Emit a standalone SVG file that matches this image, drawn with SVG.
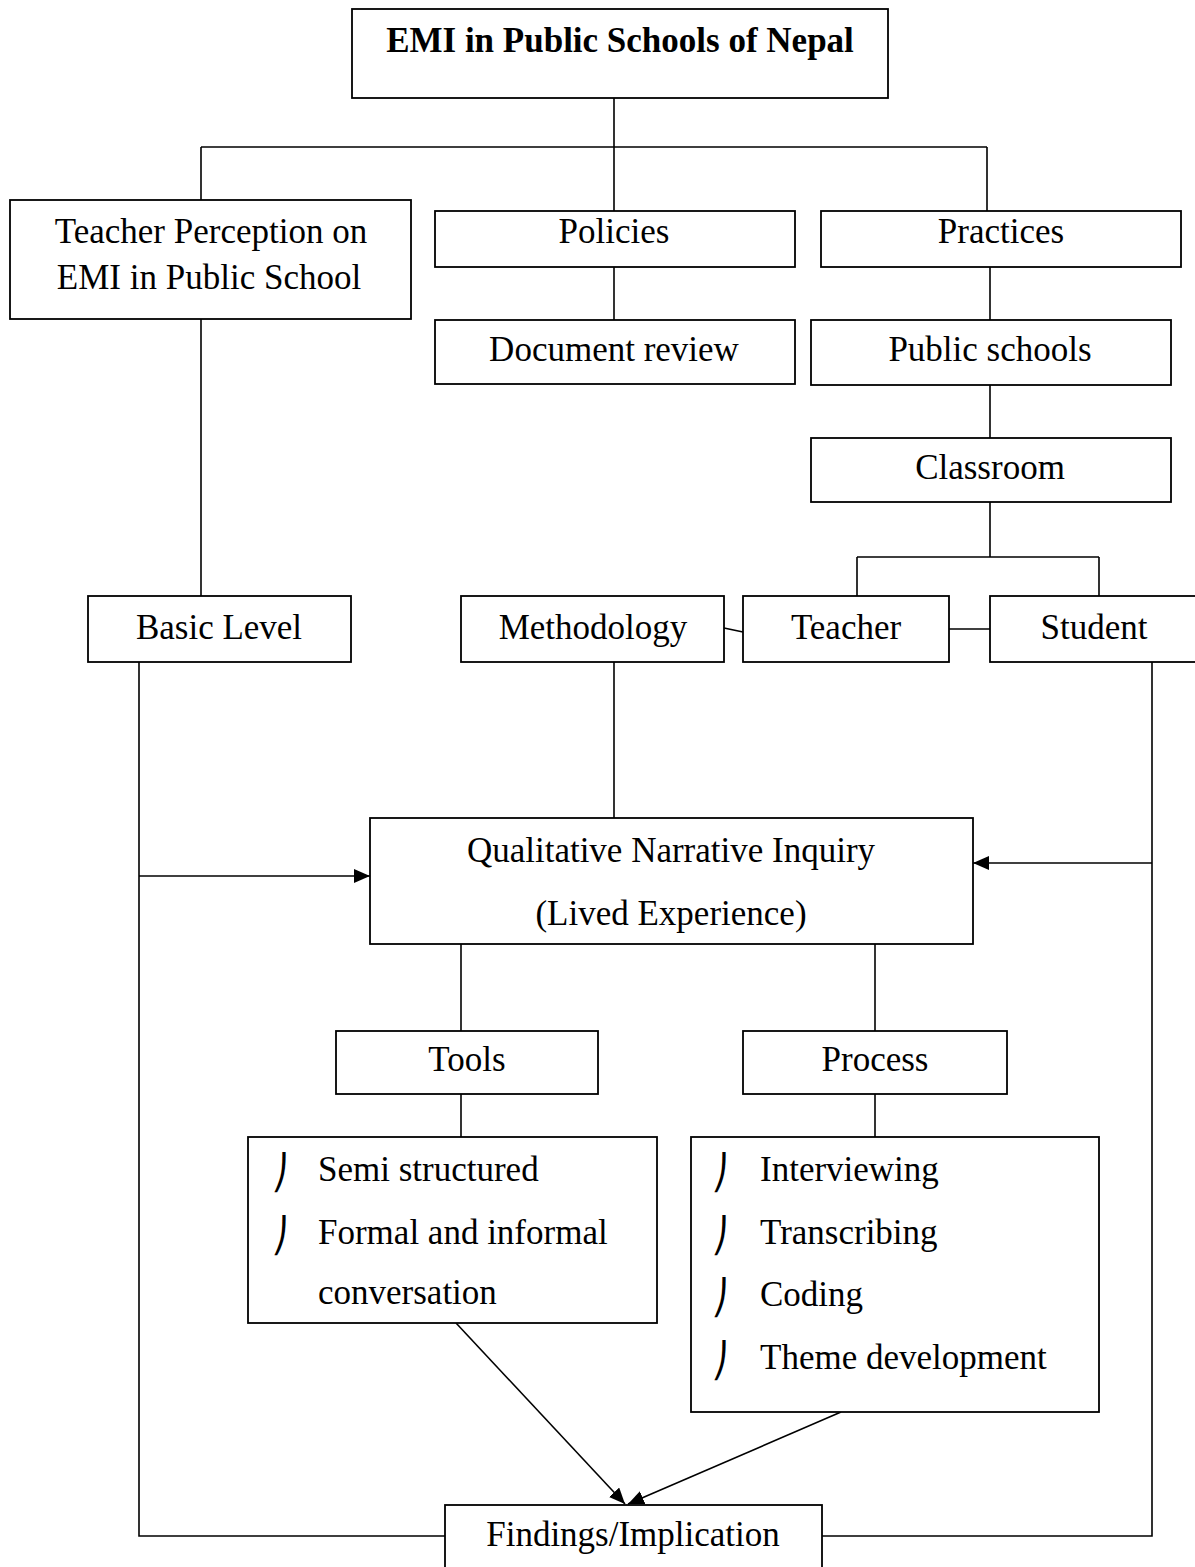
<svg xmlns="http://www.w3.org/2000/svg" width="1195" height="1567" viewBox="0 0 1195 1567">
<style>
.box{fill:#fff;stroke:#000;stroke-width:1.8}
.t{font-family:"Liberation Serif","Times New Roman",serif;font-size:35px;fill:#000}
.c{text-anchor:middle}
.b{font-weight:bold}
.bul{font-family:"DejaVu Sans",sans-serif;font-size:34px;fill:#000;text-anchor:middle}
.ln{fill:none;stroke:#000;stroke-width:1.6}
</style>
<defs>
<marker id="ah2" viewBox="0 0 10 10" refX="10" refY="5" markerWidth="16" markerHeight="14" markerUnits="userSpaceOnUse" orient="auto" preserveAspectRatio="none">
<path d="M0,0 L10,5 L0,10 z" fill="#000"/>
</marker>
</defs>
<g id="connectors">
<path class="ln" d="M614,98 V147 M201,147 H987 M201,147 V200 M614,147 V211 M987,147 V211"/>
<path class="ln" d="M614,267 V320"/>
<path class="ln" d="M990,267 V320"/>
<path class="ln" d="M990,385 V438"/>
<path class="ln" d="M990,502 V557 M857,557 H1099 M857,557 V596 M1099,557 V596"/>
<path class="ln" d="M949,629 H990"/>
<path class="ln" d="M724,628 L743,632"/>
<path class="ln" d="M201,319 V596"/>
<path class="ln" d="M614,662 V818"/>
<path class="ln" d="M139,662 V1536 H445"/>
<path class="ln" d="M1152,662 V1536 H822"/>
<path class="ln" d="M139,876 H370" marker-end="url(#ah2)"/>
<path class="ln" d="M1152,863 H973" marker-end="url(#ah2)"/>
<path class="ln" d="M461,944 V1031"/>
<path class="ln" d="M875,944 V1031"/>
<path class="ln" d="M461,1094 V1137"/>
<path class="ln" d="M875,1094 V1137"/>
<path class="ln" d="M456,1323 L625,1504" marker-end="url(#ah2)"/>
<path class="ln" d="M841,1412 L628,1504" marker-end="url(#ah2)"/>
</g>
<g id="n-title"><rect class="box" x="352" y="9" width="536" height="89"/><text class="t c b" x="620" y="52">EMI in Public Schools of Nepal</text></g>
<g id="n-perception"><rect class="box" x="10" y="200" width="401" height="119"/><text class="t c" x="211" y="243">Teacher Perception on</text><text class="t c" x="209" y="289">EMI in Public School</text></g>
<g id="n-policies"><rect class="box" x="435" y="211" width="360" height="56"/><text class="t c" x="614" y="243">Policies</text></g>
<g id="n-practices"><rect class="box" x="821" y="211" width="360" height="56"/><text class="t c" x="1001" y="243">Practices</text></g>
<g id="n-docreview"><rect class="box" x="435" y="320" width="360" height="64"/><text class="t c" x="614" y="361">Document review</text></g>
<g id="n-publicschools"><rect class="box" x="811" y="320" width="360" height="65"/><text class="t c" x="990" y="361">Public schools</text></g>
<g id="n-classroom"><rect class="box" x="811" y="438" width="360" height="64"/><text class="t c" x="990" y="479">Classroom</text></g>
<g id="n-basic"><rect class="box" x="88" y="596" width="263" height="66"/><text class="t c" x="219" y="639">Basic Level</text></g>
<g id="n-methodology"><rect class="box" x="461" y="596" width="263" height="66"/><text class="t c" x="593" y="639">Methodology</text></g>
<g id="n-teacher"><rect class="box" x="743" y="596" width="206" height="66"/><text class="t c" x="846" y="639">Teacher</text></g>
<g id="n-student"><rect class="box" x="990" y="596" width="220" height="66"/><text class="t c" x="1094" y="639">Student</text></g>
<g id="n-qni"><rect class="box" x="370" y="818" width="603" height="126"/><text class="t c" x="671" y="862">Qualitative Narrative Inquiry</text><text class="t c" x="671" y="925">(Lived Experience)</text></g>
<g id="n-tools"><rect class="box" x="336" y="1031" width="262" height="63"/><text class="t c" x="467" y="1071">Tools</text></g>
<g id="n-process"><rect class="box" x="743" y="1031" width="264" height="63"/><text class="t c" x="875" y="1071">Process</text></g>
<g id="n-toollist"><rect class="box" x="248" y="1137" width="409" height="186"/>
<text class="bul" x="280" y="1184">⎠</text><text class="t" x="318" y="1181">Semi structured</text>
<text class="bul" x="280" y="1247">⎠</text><text class="t" x="318" y="1244">Formal and informal</text>
<text class="t" x="318" y="1304">conversation</text></g>
<g id="n-proclist"><rect class="box" x="691" y="1137" width="408" height="275"/>
<text class="bul" x="720" y="1184">⎠</text><text class="t" x="760" y="1181">Interviewing</text>
<text class="bul" x="720" y="1247">⎠</text><text class="t" x="760" y="1244">Transcribing</text>
<text class="bul" x="720" y="1309">⎠</text><text class="t" x="760" y="1306">Coding</text>
<text class="bul" x="720" y="1372">⎠</text><text class="t" x="760" y="1369">Theme development</text></g>
<g id="n-findings"><rect class="box" x="445" y="1505" width="377" height="80"/><text class="t c" x="633" y="1546">Findings/Implication</text></g>
</svg>
